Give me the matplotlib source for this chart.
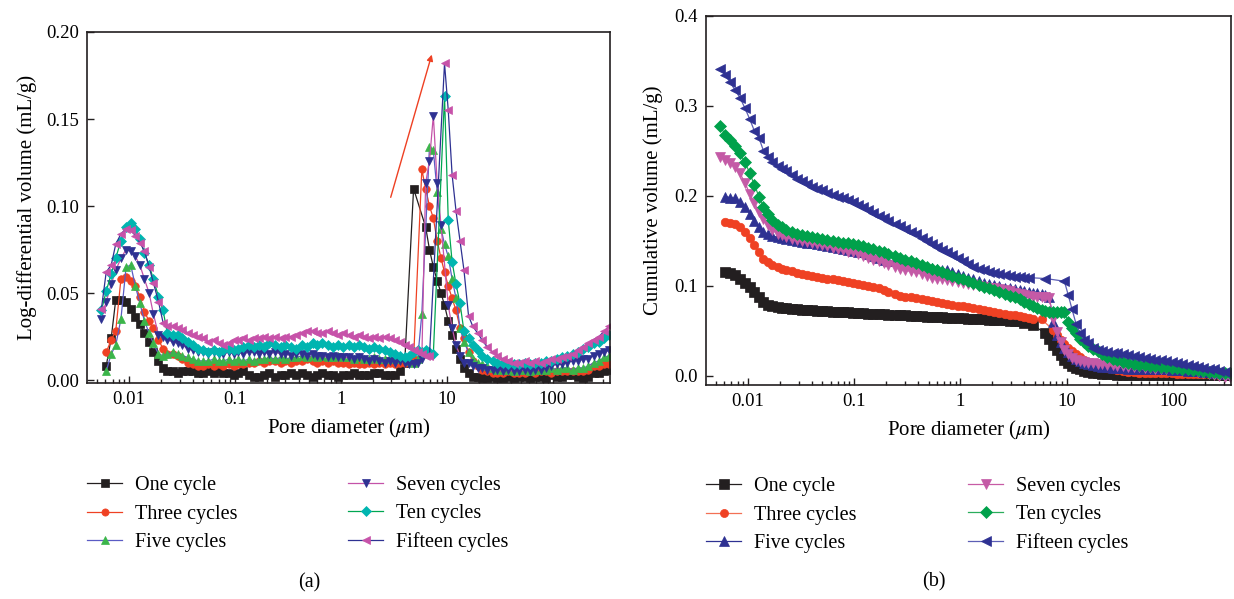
import numpy as np
import matplotlib
matplotlib.use("Agg")
import matplotlib.pyplot as plt
from matplotlib.ticker import FixedLocator, FixedFormatter, LogLocator, NullFormatter

plt.rcParams['font.family'] = ['Liberation Serif', 'DejaVu Serif']
plt.rcParams['mathtext.fontset'] = 'stix'

nan = np.nan

# pore diameter steps (um), shared by every sample
pore_d = [0.0055, 0.0061, 0.0068, 0.0075, 0.0084, 0.0094, 0.0104, 0.0115, 0.0127, 0.014,
          0.0155, 0.017, 0.019, 0.021, 0.023, 0.026, 0.029, 0.032, 0.036, 0.040,
          0.045, 0.050, 0.056, 0.063, 0.070, 0.078, 0.087, 0.097, 0.108, 0.12,
          0.135, 0.15, 0.17, 0.19, 0.21, 0.24, 0.27, 0.30, 0.34, 0.38,
          0.43, 0.48, 0.54, 0.60, 0.67, 0.75, 0.84, 0.94, 1.05, 1.18,
          1.32, 1.48, 1.65, 1.85, 2.07, 2.3, 2.6, 2.9, 3.25, 3.6,
          4.0, 4.4, 4.85, 5.3, 5.8, 6.3, 6.85, 7.45, 8.1, 8.8,
          9.5, 10.3, 11.2, 12.2, 13.3, 14.5, 16, 17.5, 19.5, 21.5,
          24, 27, 30, 34, 38, 43, 48, 54, 61, 68,
          77, 86, 97, 109, 122, 137, 154, 172, 193, 216,
          242, 272, 305, 340]

labels = ["One cycle", "Three cycles", "Five cycles",
          "Seven cycles", "Ten cycles", "Fifteen cycles"]

# (a) log-differential intrusion (mL/g)
ld_one = [nan, 0.008, 0.024, 0.046, 0.046, 0.045, 0.041, 0.036, 0.032, 0.027,
          0.022, 0.016, 0.011, 0.007, 0.005, 0.005, 0.004, 0.005, 0.005, 0.005,
          0.004, 0.004, 0.005, 0.004, 0.005, 0.004, 0.004, 0.003, 0.004, 0.005,
          0.003, 0.002, 0.002, 0.003, 0.004, 0.002, 0.003, 0.003, 0.004, 0.003,
          0.004, 0.003, 0.002, 0.003, 0.004, 0.003, 0.003, 0.002, 0.003, 0.003,
          0.004, 0.003, 0.003, 0.003, 0.004, 0.004, 0.003, 0.003, 0.003, 0.005,
          0.010, nan, 0.110, nan, nan, 0.088, 0.075, 0.065, 0.057, 0.050,
          0.043, 0.034, 0.026, 0.018, 0.012, 0.007, 0.004, 0.002, 0.002, 0.001,
          0.001, 0.002, 0.001, 0.001, 0.002, 0.001, 0.002, 0.002, 0.001, 0.002,
          0.002, 0.001, 0.003, 0.002, 0.002, 0.003, 0.003, 0.002, 0.001, 0.002,
          0.004, 0.004, 0.005, 0.006]
ld_three = [nan, 0.016, 0.023, 0.028, 0.058, 0.059, 0.057, 0.054, 0.048, 0.039,
            0.034, 0.030, 0.023, 0.018, 0.015, 0.015, 0.014, 0.012, 0.010, 0.009,
            0.008, 0.008, 0.009, 0.008, 0.009, 0.008, 0.009, 0.008, 0.009, 0.009,
            0.010, 0.010, 0.011, 0.010, 0.011, 0.011, 0.010, 0.011, 0.010, 0.011,
            0.011, 0.012, 0.011, 0.010, 0.011, 0.010, 0.011, 0.010, 0.010, 0.009,
            0.010, 0.009, 0.009, 0.010, 0.009, 0.010, 0.009, 0.010, 0.009, 0.010,
            0.010, 0.011, 0.012, nan, 0.121, 0.110, 0.100, 0.093, 0.080, 0.070,
            0.062, 0.054, 0.047, 0.040, 0.030, 0.024, 0.016, 0.011, 0.008, 0.006,
            0.005, 0.004, 0.004, 0.004, 0.005, 0.004, 0.004, 0.004, 0.005, 0.004,
            0.005, 0.005, 0.004, 0.005, 0.005, 0.005, 0.005, 0.005, 0.005, 0.006,
            0.008, 0.008, 0.009, 0.009]
ld_five = [nan, 0.005, 0.015, 0.020, 0.035, 0.065, 0.066, 0.054, 0.044, 0.034,
           0.027, 0.021, 0.015, 0.014, 0.015, 0.016, 0.015, 0.014, 0.013, 0.012,
           0.011, 0.011, 0.011, 0.012, 0.011, 0.011, 0.012, 0.011, 0.012, 0.011,
           0.012, 0.011, 0.012, 0.012, 0.013, 0.012, 0.013, 0.012, 0.013, 0.013,
           0.014, 0.013, 0.014, 0.013, 0.014, 0.013, 0.013, 0.014, 0.013, 0.013,
           0.012, 0.013, 0.012, 0.012, 0.013, 0.012, 0.012, 0.013, 0.012, 0.013,
           0.013, 0.011, 0.010, 0.012, 0.038, nan, 0.134, 0.132, 0.108, 0.087,
           0.078, 0.071, 0.058, 0.047, 0.030, 0.022, 0.016, 0.012, 0.010, 0.009,
           0.008, 0.007, 0.006, 0.006, 0.006, 0.005, 0.006, 0.006, 0.005, 0.006,
           0.006, 0.006, 0.007, 0.006, 0.007, 0.007, 0.006, 0.007, 0.007, 0.008,
           0.010, 0.011, 0.013, 0.014]
ld_seven = [0.035, 0.045, 0.055, 0.063, 0.070, 0.075, 0.074, 0.071, 0.066, 0.058,
            0.050, 0.038, 0.026, 0.025, 0.023, 0.022, 0.021, 0.020, 0.018, 0.017,
            0.016, 0.016, 0.015, 0.016, 0.015, 0.015, 0.016, 0.015, 0.016, 0.015,
            0.016, 0.016, 0.015, 0.016, 0.015, 0.016, 0.015, 0.015, 0.014, 0.015,
            0.015, 0.014, 0.015, 0.014, 0.014, 0.013, 0.014, 0.013, 0.013, 0.013,
            0.012, 0.013, 0.012, 0.011, 0.012, 0.011, 0.010, 0.011, 0.010, 0.011,
            0.010, 0.009, 0.009, 0.010, 0.012, 0.113, 0.126, 0.152, 0.113, 0.089,
            nan, 0.043, 0.030, 0.020, 0.014, 0.010, 0.010, 0.008, 0.007, 0.007,
            0.006, 0.006, 0.006, 0.005, 0.006, 0.005, 0.005, 0.006, 0.005, 0.006,
            0.006, 0.007, 0.008, 0.009, 0.009, 0.010, 0.011, 0.011, 0.012, 0.012,
            0.014, 0.015, 0.016, 0.017]
ld_ten = [0.040, 0.051, 0.061, 0.070, 0.080, 0.088, 0.090, 0.087, 0.081, 0.073,
          0.066, 0.058, 0.048, 0.040, 0.027, 0.026, 0.026, 0.024, 0.022, 0.020,
          0.018, 0.017, 0.016, 0.017, 0.016, 0.017, 0.018, 0.017, 0.018, 0.019,
          0.020, 0.019, 0.020, 0.019, 0.021, 0.020, 0.019, 0.020, 0.019, 0.018,
          0.020, 0.019, 0.021, 0.020, 0.021, 0.020, 0.019, 0.020, 0.019, 0.020,
          0.019, 0.020, 0.019, 0.018, 0.019, 0.018, 0.017, 0.016, 0.015, 0.014,
          0.013, 0.014, 0.016, 0.017, 0.016, 0.017, 0.016, 0.015, nan, nan,
          0.163, 0.092, 0.068, 0.055, 0.044, 0.028, 0.024, 0.020, 0.017, 0.014,
          0.012, 0.011, 0.010, 0.010, 0.009, 0.009, 0.009, 0.010, 0.009, 0.010,
          0.010, 0.011, 0.011, 0.012, 0.013, 0.014, 0.015, 0.016, 0.018, 0.019,
          0.021, 0.022, 0.024, 0.026]
ld_fifteen = [0.041, 0.062, 0.066, 0.078, 0.084, 0.087, 0.086, 0.083, 0.079, 0.074,
              0.065, 0.056, 0.045, 0.033, 0.031, 0.031, 0.030, 0.029, 0.027, 0.026,
              0.025, 0.024, 0.022, 0.023, 0.021, 0.020, 0.021, 0.023, 0.023, 0.024,
              0.023, 0.024, 0.024, 0.025, 0.024, 0.025, 0.024, 0.025, 0.025, 0.026,
              0.027, 0.028, 0.028, 0.027, 0.027, 0.028, 0.027, 0.026, 0.027, 0.026,
              0.025, 0.026, 0.025, 0.024, 0.025, 0.024, 0.025, 0.024, 0.023, 0.022,
              0.020, 0.019, 0.017, 0.016, 0.015, 0.014, 0.014, nan, nan, nan,
              0.182, 0.155, 0.118, 0.097, 0.080, 0.063, 0.037, 0.031, 0.027, 0.023,
              0.019, 0.016, 0.014, 0.012, 0.011, 0.010, 0.010, 0.011, 0.010, 0.011,
              0.010, 0.011, 0.012, 0.012, 0.013, 0.014, 0.015, 0.017, 0.019, 0.021,
              0.023, 0.025, 0.028, 0.031]

# (b) cumulative intrusion (mL/g)
cv_one = [nan, 0.115, 0.114, 0.112, 0.108, 0.103, 0.099, 0.093, 0.087, 0.082,
          0.079, 0.078, 0.0767, 0.0757, 0.075, 0.0745, 0.074, 0.0735, 0.073, 0.0727,
          0.0723, 0.072, 0.0717, 0.0713, 0.071, 0.0706, 0.0703, 0.070, 0.0697, 0.0694,
          0.0691, 0.0688, 0.0685, 0.0682, 0.0679, 0.0676, 0.0673, 0.067, 0.0667, 0.0664,
          0.0661, 0.0658, 0.0655, 0.0652, 0.0649, 0.0646, 0.0643, 0.064, 0.0637, 0.0634,
          0.0631, 0.0628, 0.0625, 0.0622, 0.062, 0.0617, 0.0614, 0.0611, 0.0608, 0.0605,
          0.059, nan, 0.056, nan, nan, 0.047, 0.041, 0.034, 0.029, 0.023,
          0.018, 0.014, 0.011, 0.009, 0.007, 0.005, 0.004, 0.003, 0.003, 0.002,
          0.002, 0.002, 0.001, 0.001, 0.001, 0.001, 0.001, 0.001, 0.001, 0.001,
          0.001, 0.001, 0.001, 0.001, 0.001, 0.001, 0.001, 0.001, 0.001, 0.001,
          0.001, 0.001, 0.001, 0.001]
cv_three = [nan, 0.171, 0.170, 0.1685, 0.165, 0.160, 0.153, 0.145, 0.137, 0.130,
            0.126, 0.123, 0.121, 0.119, 0.1175, 0.116, 0.1145, 0.113, 0.112, 0.111,
            0.110, 0.109, 0.108, 0.107, 0.106, 0.105, 0.104, 0.103, 0.102, 0.101,
            0.100, 0.099, 0.097, 0.095, 0.093, 0.091, 0.089, 0.088, 0.087, 0.086,
            0.085, 0.084, 0.083, 0.082, 0.081, 0.080, 0.079, 0.078, 0.077, 0.076,
            0.075, 0.074, 0.073, 0.072, 0.071, 0.070, 0.069, 0.068, 0.067, 0.066,
            0.065, 0.064, 0.063, nan, 0.0625, nan, nan, 0.051, 0.045, 0.040,
            0.035, 0.031, 0.027, 0.024, 0.021, 0.018, 0.015, 0.013, 0.011, 0.0095,
            0.0085, 0.0075, 0.0065, 0.0055, 0.0045, 0.004, 0.0035, 0.003, 0.0028, 0.0027,
            0.0026, 0.0025, 0.0025, 0.0024, 0.0023, 0.0022, 0.0022, 0.0021, 0.002, 0.002,
            0.0015, 0.001, 0.001, 0.001]
cv_five = [nan, 0.199, 0.198, 0.197, 0.193, 0.188, 0.180, 0.172, 0.165, 0.160,
           0.157, 0.155, 0.154, 0.153, 0.152, 0.151, 0.150, 0.149, 0.148, 0.147,
           0.146, 0.145, 0.144, 0.143, 0.142, 0.141, 0.140, 0.139, 0.138, 0.137,
           0.135, 0.133, 0.131, 0.129, 0.128, 0.127, 0.126, 0.125, 0.124, 0.123,
           0.122, 0.121, 0.120, 0.119, 0.118, 0.117, 0.115, 0.113, 0.111, 0.109,
           0.107, 0.105, 0.103, 0.102, 0.101, 0.100, 0.098, 0.097, 0.096, 0.095,
           0.094, 0.093, 0.092, 0.092, 0.091, 0.090, 0.088, 0.060, 0.045, 0.037,
           0.031, 0.026, 0.022, 0.019, 0.016, 0.014, 0.013, 0.012, 0.011, 0.010,
           0.010, 0.009, 0.009, 0.009, 0.008, 0.008, 0.008, 0.008, 0.007, 0.007,
           0.007, 0.007, 0.006, 0.006, 0.006, 0.005, 0.005, 0.005, 0.004, 0.004,
           0.003, 0.003, 0.002, 0.002]
cv_seven = [0.243, 0.240, 0.236, 0.232, 0.225, 0.214, 0.202, 0.192, 0.182, 0.174,
            0.167, 0.162, 0.158, 0.156, 0.154, 0.152, 0.151, 0.150, 0.149, 0.147,
            0.146, 0.145, 0.144, 0.142, 0.141, 0.140, 0.138, 0.137, 0.135, 0.133,
            0.131, 0.129, 0.127, 0.125, 0.123, 0.121, 0.119, 0.117, 0.116, 0.115,
            0.113, 0.111, 0.109, 0.108, 0.107, 0.106, 0.105, 0.104, 0.103, 0.102,
            0.101, 0.100, 0.099, 0.098, 0.097, 0.096, 0.095, 0.094, 0.092, 0.091,
            0.090, 0.089, 0.088, 0.088, 0.087, 0.087, 0.086, 0.063, 0.049, 0.038,
            0.029, 0.024, 0.020, 0.018, 0.016, 0.015, 0.014, 0.014, 0.013, 0.013,
            0.012, 0.012, 0.011, 0.011, 0.010, 0.010, 0.010, 0.009, 0.009, 0.008,
            0.008, 0.008, 0.007, 0.007, 0.006, 0.006, 0.005, 0.004, 0.003, 0.002,
            0.001, 0.000, -0.001, -0.001]
cv_ten = [0.277, 0.268, 0.262, 0.255, 0.247, 0.237, 0.225, 0.212, 0.199, 0.188,
          0.180, 0.173, 0.168, 0.165, 0.162, 0.160, 0.158, 0.156, 0.155, 0.154,
          0.153, 0.152, 0.151, 0.150, 0.149, 0.148, 0.147, 0.146, 0.145, 0.144,
          0.142, 0.141, 0.139, 0.137, 0.135, 0.133, 0.131, 0.129, 0.127, 0.125,
          0.123, 0.121, 0.119, 0.117, 0.115, 0.113, 0.111, 0.109, 0.107, 0.105,
          0.103, 0.101, 0.099, 0.097, 0.095, 0.093, 0.091, 0.089, 0.087, 0.085,
          0.082, 0.080, 0.077, 0.075, 0.073, 0.072, 0.071, 0.071, 0.071, 0.071,
          0.071, 0.060, 0.053, 0.047, 0.041, 0.037, 0.033, 0.030, 0.027, 0.024,
          0.021, 0.019, 0.017, 0.0155, 0.014, 0.013, 0.012, 0.012, 0.011, 0.011,
          0.010, 0.010, 0.009, 0.009, 0.008, 0.007, 0.0065, 0.006, 0.005, 0.0045,
          0.004, 0.0035, 0.003, 0.003]
cv_fifteen = [0.341, 0.334, 0.326, 0.318, 0.309, 0.297, 0.285, 0.272, 0.264, 0.250,
              0.243, 0.238, 0.233, 0.230, 0.227, 0.223, 0.219, 0.216, 0.213, 0.210,
              0.208, 0.206, 0.203, 0.201, 0.199, 0.197, 0.195, 0.193, 0.190, 0.187,
              0.184, 0.181, 0.178, 0.175, 0.172, 0.169, 0.166, 0.163, 0.160, 0.157,
              0.153, 0.150, 0.146, 0.143, 0.140, 0.137, 0.134, 0.131, 0.128, 0.124,
              0.121, 0.119, 0.117, 0.115, 0.114, 0.113, 0.112, 0.111, 0.110, 0.110,
              0.109, 0.109, nan, nan, nan, 0.108, nan, nan, nan, nan,
              0.105, 0.090, 0.074, 0.058, 0.047, 0.040, 0.036, 0.031, 0.029, 0.028,
              0.026, 0.025, 0.025, 0.024, 0.023, 0.022, 0.021, 0.020, 0.019, 0.017,
              0.017, 0.016, 0.015, 0.014, 0.013, 0.012, 0.011, 0.010, 0.009, 0.008,
              0.007, 0.005, 0.004, 0.003]

# (marker, line colour, marker colour)
styles_a = [("s", "#231f20", "#231f20"),
            ("o", "#ef4123", "#ef4123"),
            ("^", "#5a5bc4", "#3bb54a"),
            ("v", "#c452a8", "#2e3192"),
            ("D", "#00a651", "#00b5b0"),
            ("<", "#2e3192", "#c752a9")]
styles_b = [("s", "#231f20", "#231f20"),
            ("o", "#f37055", "#ef4123"),
            ("^", "#2e3192", "#2e3192"),
            ("v", "#c75ba5", "#c45aa6"),
            ("D", "#2bad5c", "#00a14b"),
            ("<", "#5c5fb5", "#2e3192")]

fig = plt.figure(figsize=(12.34, 5.99), dpi=100)
ax1 = fig.add_axes([87 / 1234, 1 - 383 / 599, 523 / 1234, 351 / 599])
ax2 = fig.add_axes([706 / 1234, 1 - 385 / 599, 525 / 1234, 369.3 / 599])

d = np.array(pore_d)


def draw(ax, series, styles, ms):
    handles = []
    for y, (mk, lc, mc), lab in zip(series, styles, labels):
        y = np.array(y, dtype=float)
        ok = ~np.isnan(y)
        size = ms * 0.85 if mk in ("D", "o") else ms
        h, = ax.plot(d[ok], y[ok], color=lc, lw=0.9, marker=mk, ms=size,
                     mfc=mc, mec=mc, mew=0.5, label=lab)
        handles.append(h)
    return handles


ha = draw(ax1, [ld_one, ld_three, ld_five, ld_seven, ld_ten, ld_fifteen], styles_a, 6.4)
hb = draw(ax2, [cv_one, cv_three, cv_five, cv_seven, cv_ten, cv_fifteen], styles_b, 7.2)

ax1.annotate("", xy=(7.2, 0.187), xytext=(2.95, 0.105),
             arrowprops=dict(arrowstyle="-|>", color="#ee4023", lw=1.0,
                             mutation_scale=9, shrinkA=0, shrinkB=0))

for ax in (ax1, ax2):
    ax.set_xscale("log")
    ax.xaxis.set_major_locator(FixedLocator([0.01, 0.1, 1, 10, 100]))
    ax.xaxis.set_major_formatter(FixedFormatter(["0.01", "0.1", "1", "10", "100"]))
    ax.xaxis.set_minor_locator(LogLocator(base=10, subs=np.arange(2, 10), numticks=20))
    ax.xaxis.set_minor_formatter(NullFormatter())
    ax.tick_params(which="both", direction="in", top=False, right=False,
                   width=1.0, color="#231f20")
    ax.tick_params(which="major", length=5, labelsize=13.5, pad=6)
    ax.tick_params(which="minor", length=3)
    for s in ax.spines.values():
        s.set_linewidth(1.2)
        s.set_color("#231f20")
    ax.set_xlabel("Pore diameter ($\\mu$m)", fontsize=15, labelpad=6)

ax1.set_xlim(0.00402, 346)
ax1.set_ylim(-0.0017, 0.20)
ax1.set_yticks([0.0, 0.05, 0.10, 0.15, 0.20])
ax1.set_yticklabels(["0.00", "0.05", "0.10", "0.15", "0.20"])
ax1.set_ylabel("Log-differential volume (mL/g)", fontsize=15, labelpad=6)

ax2.set_xlim(0.00403, 351)
ax2.set_ylim(-0.0103, 0.40)
ax2.set_yticks([0.0, 0.1, 0.2, 0.3, 0.4])
ax2.set_yticklabels(["0.0", "0.1", "0.2", "0.3", "0.4"])
ax2.set_ylabel("Cumulative volume (mL/g)", fontsize=15, labelpad=8)

leg_kw = dict(loc="center left", frameon=False, fontsize=14.5, borderpad=0,
              borderaxespad=0, handlelength=1.75, handletextpad=0.65, labelspacing=0.45,
              markerscale=0.95)
fig.legend(handles=ha[:3], bbox_to_anchor=(87 / 1234, 1 - 514 / 599), **leg_kw)
fig.legend(handles=ha[3:], bbox_to_anchor=(348 / 1234, 1 - 514 / 599), **leg_kw)
fig.legend(handles=hb[:3], bbox_to_anchor=(706 / 1234, 1 - 515 / 599), **leg_kw)
fig.legend(handles=hb[3:], bbox_to_anchor=(968 / 1234, 1 - 515 / 599), **leg_kw)

fig.text(309 / 1234, 1 - 583 / 599, "(a)", ha="center", va="center", fontsize=14.5)
fig.text(934 / 1234, 1 - 582 / 599, "(b)", ha="center", va="center", fontsize=14.5)

fig.savefig("out.png", dpi=100, facecolor="white")
